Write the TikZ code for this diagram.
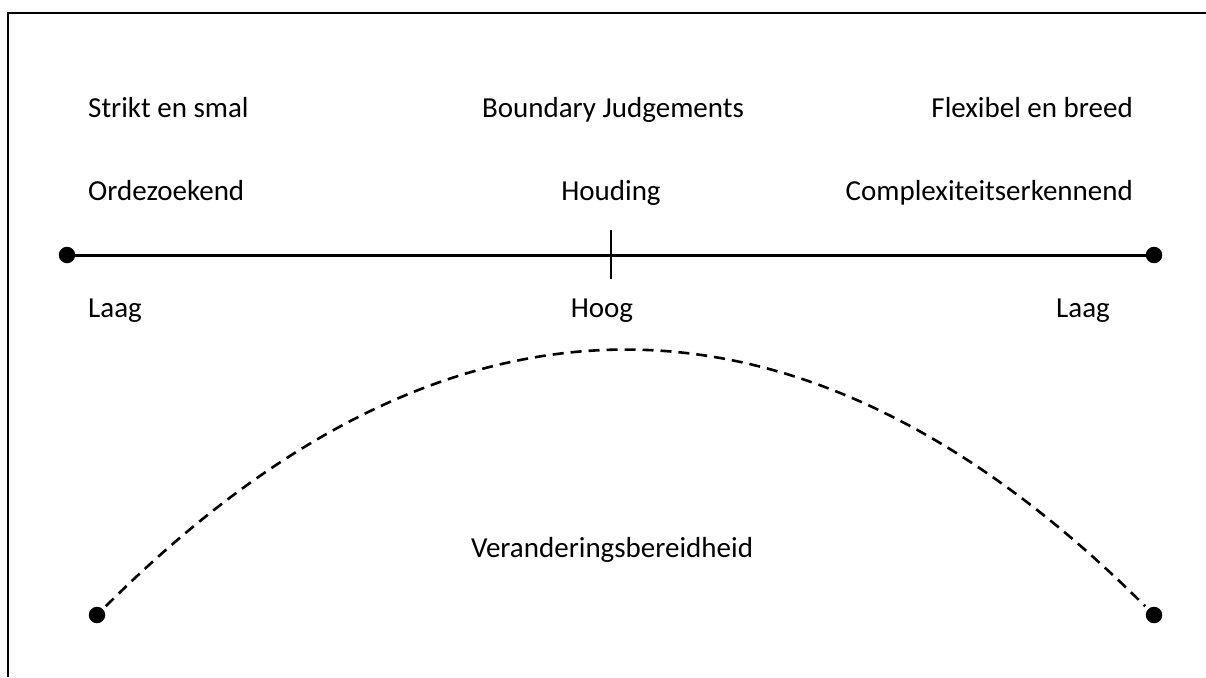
\documentclass[tikz,border=0pt]{standalone}
\usepackage{fontspec}
\setmainfont{Carlito}
\begin{document}
\begin{tikzpicture}[x=1pt,y=-1pt,
  lbl/.style={inner sep=0pt,font=\fontsize{29}{34}\selectfont},
  dot/.style={circle,fill=black,inner sep=0pt,minimum size=16.5pt},
  axis/.style={line width=3pt},
  curve/.style={line width=2.6pt,dash pattern=on 11pt off 7pt}]
  \useasboundingbox (0,0) rectangle (1206,677);
  % open frame: top and left edges
  \draw[line width=2.4pt] (8,677) -- (8,13) -- (1206,13);

  % top labels
  \node[lbl,anchor=base west] (sm) at (88,117) {Strikt en smal};
  \node[lbl,anchor=base] (bj) at (613,117) {Boundary Judgements};
  \node[lbl,anchor=base east] (fb) at (1133,117) {Flexibel en breed};
  \node[lbl,anchor=base west] (oz) at (88,200) {Ordezoekend};
  \node[lbl,anchor=base] (ho) at (611,200) {Houding};
  \node[lbl,anchor=base east] (ce) at (1133,200) {Complexiteitserkennend};

  % attitude axis with middle tick
  \node[dot] (al) at (67,255) {};
  \node[dot] (ar) at (1154,255) {};
  \draw[axis] (al.center) -- (ar.center);
  \coordinate (tt) at (611,230);
  \coordinate (tb) at (611,279);
  \draw[line width=2.2pt] (tt) -- (tb);

  % level labels
  \node[lbl,anchor=base west] (l1) at (88,317) {Laag};
  \node[lbl,anchor=base] (hg) at (602,317) {Hoog};
  \node[lbl,anchor=base east] (l2) at (1110,317) {Laag};

  % willingness to change: parabola between two points
  \node[dot] (bl) at (97,615) {};
  \node[dot] (br) at (1154,615) {};
  \draw[curve,shorten <=4pt,shorten >=4pt] (bl) .. controls (449,264) and (802,264) .. (br);
  \node[lbl,anchor=base] (vb) at (612,557) {Veranderingsbereidheid};
\end{tikzpicture}
\end{document}
